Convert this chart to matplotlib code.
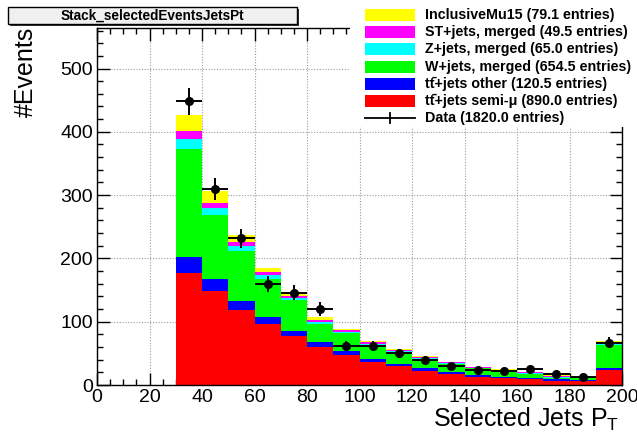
import numpy as np
import matplotlib
matplotlib.use("Agg")
import matplotlib.pyplot as plt
from matplotlib.patches import Rectangle
from matplotlib.lines import Line2D
from matplotlib.ticker import MultipleLocator

plt.rcParams['font.family'] = ['Liberation Sans', 'DejaVu Sans']
plt.rcParams['mathtext.fontset'] = 'custom'
plt.rcParams['mathtext.rm'] = 'Liberation Sans'
plt.rcParams['mathtext.it'] = 'Liberation Sans'
plt.rcParams['mathtext.bf'] = 'Liberation Sans:bold'

# ---- data ----
bin_edges = np.arange(30, 201, 10)
tt_semimu = [177, 149, 119, 96, 77, 60, 48, 37, 30, 22.5, 17.8, 13.3, 11.5, 8.8, 7, 6, 24]
tt_other  = [25, 19, 14, 12, 9, 8, 6.3, 4.2, 3.5, 3.6, 2.7, 2.6, 1.8, 1.6, 1.7, 1.6, 3.5]
wjets     = [170.6, 101, 78.5, 60, 47.6, 28, 28, 21.5, 18, 15.3, 13, 10.5, 9.5, 6.8, 3.0, 3.0, 36]
zjets     = [16.4, 11, 8.5, 5.6, 3.4, 3.5, 2, 2.5, 2, 1.8, 1.3, 1.0, 0.8, 2.0, 0.8, 0.8, 3]
stjets    = [12.6, 8, 6, 5.4, 3, 3.5, 2, 2, 1.8, 1.5, 1.2, 0.8, 0.5, 0.6, 2.0, 0.6, 1]
inclmu15  = [25.4, 19, 11, 6, 5, 4, 1.5, 2, 1.5, 1.2, 1.0, 0.8, 0.6, 0.6, 0.8, 0.5, 1.5]
data      = [448, 310, 232, 160, 146, 120, 61, 61, 50, 40, 30, 23, 22, 25, 18, 12, 67]

series = [tt_semimu, tt_other, wjets, zjets, stjets, inclmu15]
colors = ['#ff0000', '#0000ff', '#00ff00', '#00ffff', '#ff00ff', '#ffff00']
legend_labels = [
    "InclusiveMu15 (79.1 entries)",
    "ST+jets, merged (49.5 entries)",
    "Z+jets, merged (65.0 entries)",
    "W+jets, merged (654.5 entries)",
    "tt\u0304+jets other (120.5 entries)",
    "tt\u0304+jets semi-\u03bc (890.0 entries)",
    "Data (1820.0 entries)",
]
legend_colors = ['#ffff00', '#ff00ff', '#00ffff', '#00ff00', '#0000ff', '#ff0000']

W, H = 637, 436
fig = plt.figure(figsize=(W/100, H/100), dpi=100)
fig.patch.set_facecolor('white')
L, R, T, B = 97, 622, 28, 385
ax = fig.add_axes([L/W, 1-B/H, (R-L)/W, (B-T)/H])

left = bin_edges[:-1]
widths = np.diff(bin_edges)
centers = left + widths/2
bottom = np.zeros(len(left))
for vals, c in zip(series, colors):
    ax.bar(left, vals, width=widths, bottom=bottom, align='edge', color=c, linewidth=0, zorder=2)
    bottom = bottom + np.array(vals)

d = np.array(data, dtype=float)
ax.errorbar(centers, d, xerr=widths/2, yerr=np.sqrt(d), fmt='o', color='black',
            ms=5.5, elinewidth=1.4, capsize=0, zorder=4)

ax.set_xlim(0, 200)
ax.set_ylim(0, 564)
ax.xaxis.set_major_locator(MultipleLocator(20))
ax.xaxis.set_minor_locator(MultipleLocator(5))
ax.yaxis.set_major_locator(MultipleLocator(100))
ax.yaxis.set_minor_locator(MultipleLocator(20))
ax.tick_params(which='both', direction='in', top=True, right=True, labelsize=14, width=1)
ax.tick_params(which='major', length=9, pad=3)
ax.tick_params(which='minor', length=4.5)
ax.grid(True, which='major', linestyle=(0, (1, 1.5)), color='#9a9a9a', linewidth=0.8, zorder=1)
ax.set_axisbelow(True)
for s in ax.spines.values():
    s.set_linewidth(1)

# axis titles
fig.text(26/W, 1-27/H, '#Events', rotation=90, ha='center', va='top', fontsize=18)
fig.text(619/W, 1-426.5/H, 'Selected Jets P$_\\mathrm{T}$', ha='right', va='baseline', fontsize=18)

# title box
fig.add_artist(Rectangle(((8+2)/W, 1-(24+2)/H), (297-8)/W, 17/H, transform=fig.transFigure,
                         facecolor='#333333', edgecolor='none', zorder=5))
fig.add_artist(Rectangle((8/W, 1-24/H), (297-8)/W, 17/H, transform=fig.transFigure,
                         facecolor='#f0f0f0', edgecolor='black', linewidth=1, zorder=6))
fig.text(152.5/W, 1-15.5/H, 'Stack_selectedEventsJetsPt', ha='center', va='center',
         fontsize=9.8, fontweight='bold', zorder=7)

# legend (opaque white background covering the frame)
fig.add_artist(Rectangle((350/W, 1-127/H), (W-350)/W, 127/H, transform=fig.transFigure,
                         facecolor='white', edgecolor='none', zorder=10))
y0, dy = 15, 17.2
for i, lab in enumerate(legend_labels):
    yc = y0 + dy*i
    if i < len(legend_colors):
        fig.add_artist(Rectangle((365/W, 1-(yc+6)/H), 50/W, 12/H, transform=fig.transFigure,
                                 facecolor=legend_colors[i], edgecolor='none', zorder=11))
    else:
        fig.add_artist(Line2D([365/W, 415/W], [1-yc/H, 1-yc/H], transform=fig.transFigure,
                              color='black', linewidth=1.3, zorder=11))
        fig.add_artist(Line2D([390/W, 390/W], [1-(yc-5)/H, 1-(yc+5)/H], transform=fig.transFigure,
                              color='black', linewidth=1.3, zorder=11))
    fig.text(425/W, 1-yc/H, lab, ha='left', va='center', fontsize=10.3, fontweight='bold', zorder=12)

fig.savefig('out.png', dpi=100)
